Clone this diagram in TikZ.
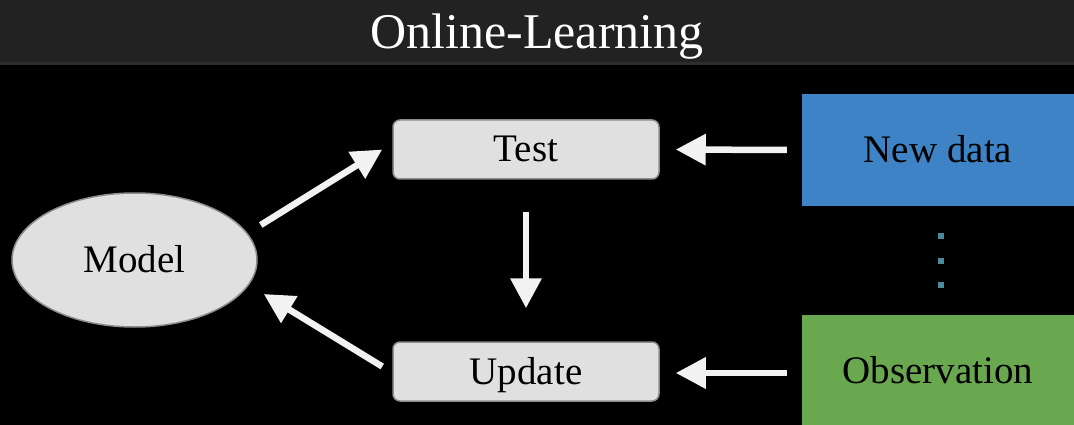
\documentclass[tikz,border=0pt]{standalone}
\usepackage{fontspec}
\setmainfont{Liberation Serif}
\usetikzlibrary{arrows.meta,shapes.geometric}
\definecolor{barbg}{HTML}{222222}
\definecolor{barline}{HTML}{2E2E2E}
\definecolor{boxfill}{HTML}{E0E0E0}
\definecolor{boxedge}{HTML}{8C8C8C}
\definecolor{datablue}{HTML}{3D83C6}
\definecolor{obsgreen}{HTML}{6AA84F}
\definecolor{dotteal}{HTML}{4A8A9A}
\definecolor{arrowwhite}{HTML}{F2F2F2}
\tikzset{
  label text/.style={font=\fontsize{39}{42}\selectfont, text=black,
    text height=25pt, text depth=0pt},
  stepbox/.style={label text, draw=boxedge, line width=1.5pt, fill=boxfill,
    rounded corners=7pt, minimum width=266pt, minimum height=59pt, inner sep=0pt},
  modelshape/.style={label text, ellipse, draw=boxedge, line width=1.5pt, fill=boxfill,
    minimum width=245pt, minimum height=134pt, inner sep=0pt},
  sourcebox/.style={label text, minimum width=272pt, minimum height=111pt, inner sep=0pt},
  flow/.style={draw=arrowwhite, line width=6.5pt,
    -{Triangle[length=30pt,width=30pt,fill=arrowwhite]}},
  dotmark/.style={fill=dotteal, minimum size=6pt, inner sep=0pt},
}
\begin{document}
\begin{tikzpicture}[x=1pt,y=-1pt]
  % canvas and title bar
  \fill[black] (0,0) rectangle (1074,425);
  \fill[barbg] (0,0) rectangle (1074,62);
  \fill[barline] (0,62) rectangle (1074,65);
  \useasboundingbox (0,0) rectangle (1074,425);
  \node[text=white, font=\fontsize{50}{54}\selectfont, anchor=base] (title) at (537,49) {Online-Learning};

  % nodes
  \node[modelshape] (model) at (134.5,260) {Model};
  \node[stepbox] (test) at (526,149.5) {Test};
  \node[stepbox] (update) at (526,371.5) {Update};
  \node[sourcebox, fill=datablue] (newdata) at (938,150) {New data};
  \node[sourcebox, fill=obsgreen] (observation) at (938,370.5) {Observation};

  % ellipsis between the two sources
  \node[dotmark] (d1) at (941,236) {};
  \node[dotmark] (d2) at (941,261) {};
  \node[dotmark] (d3) at (941,285) {};

  % connectors
  \draw[flow] ([shift={(3,-35)}]model.east) -- ([shift={(-10,0)}]test.west);
  \draw[flow] ([shift={(0,32)}]test.south) -- ([shift={(0,-33)}]update.north);
  \draw[flow] ([shift={(-10,-5)}]update.west) -- ([shift={(6,34)}]model.east);
  \draw[flow] ([shift={(-15,0)}]newdata.west) -- ([shift={(16,0)}]test.east);
  \draw[flow] ([shift={(-15,2.5)}]observation.west) -- ([shift={(16,1.5)}]update.east);
\end{tikzpicture}
\end{document}
